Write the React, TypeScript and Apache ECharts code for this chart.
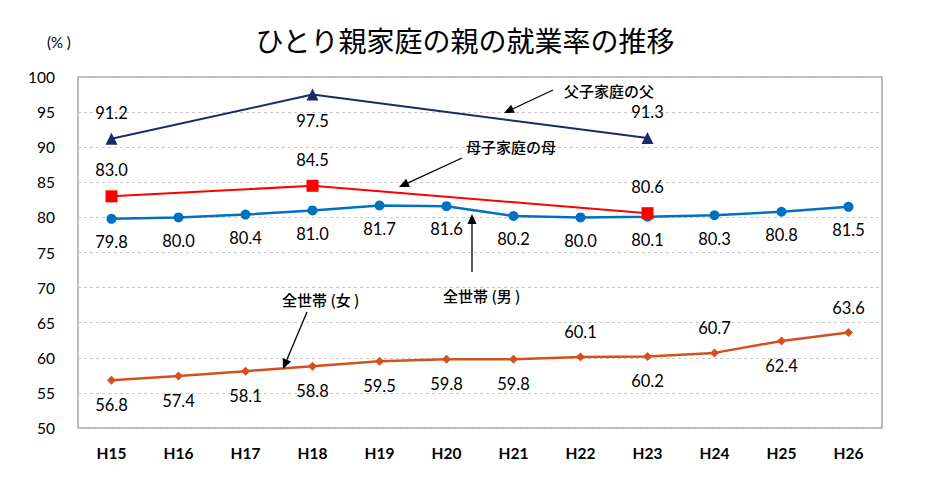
import React, { useEffect, useRef } from "react";
import * as echarts from "echarts";

const categories = ["H15", "H16", "H17", "H18", "H19", "H20", "H21", "H22", "H23", "H24", "H25", "H26"];
const fatherValues: (number | null)[] = [91.2, null, null, 97.5, null, null, null, null, 91.3, null, null, null];
const motherValues: (number | null)[] = [83.0, null, null, 84.5, null, null, null, null, 80.6, null, null, null];
const allMaleValues = [79.8, 80.0, 80.4, 81.0, 81.7, 81.6, 80.2, 80.0, 80.1, 80.3, 80.8, 81.5];
const allFemaleValues = [56.8, 57.4, 58.1, 58.8, 59.5, 59.8, 59.8, 60.1, 60.2, 60.7, 62.4, 63.6];
const fatherLabelPos = ["top", "", "", "bottom", "", "", "", "", "top", "", "", ""];
const femaleLabelPos = ["bottom", "bottom", "bottom", "bottom", "bottom", "bottom", "bottom", "top", "bottom", "top", "bottom", "top"];

const NUM_FONT = "Lato, 'Noto Sans CJK JP', sans-serif";
const JP_FONT = "'Noto Sans CJK JP', sans-serif";

function arrow(x1: number, y1: number, x2: number, y2: number) {
  const dx = x2 - x1;
  const dy = y2 - y1;
  const len = Math.sqrt(dx * dx + dy * dy);
  const ux = dx / len;
  const uy = dy / len;
  const hl = 10;
  const hw = 4.5;
  const bx = x2 - ux * hl;
  const by = y2 - uy * hl;
  return [
    {
      type: "line",
      shape: { x1, y1, x2: bx, y2: by },
      style: { stroke: "#000", lineWidth: 1.3 },
      z: 100,
    },
    {
      type: "polygon",
      shape: {
        points: [
          [x2, y2],
          [bx - uy * hw, by + ux * hw],
          [bx + uy * hw, by - ux * hw],
        ],
      },
      style: { fill: "#000" },
      z: 100,
    },
  ];
}

function annText(x: number, y: number, text: string) {
  return {
    type: "text",
    x,
    y,
    style: { text, font: `500 15px ${JP_FONT}`, fill: "#000", textVerticalAlign: "middle" },
    z: 100,
  };
}

export default function App() {
  const ref = useRef<HTMLDivElement>(null);
  useEffect(() => {
    if (!ref.current) return;
    const chart = echarts.init(ref.current, null, { renderer: "svg" });
    const labelBase = { show: true, fontSize: 16.5, color: "#000", fontFamily: NUM_FONT, formatter: (p: any) => Number(p.value).toFixed(1) };
    chart.setOption({
      animation: false,
      backgroundColor: "#fff",
      title: {
        text: "ひとり親家庭の親の就業率の推移",
        left: 460,
        textAlign: "center",
        top: 21,
        textStyle: { fontSize: 28, fontWeight: "normal", color: "#000", fontFamily: JP_FONT },
      },
      grid: {
        left: 78,
        right: 53,
        top: 77,
        bottom: 55,
        show: true,
        borderColor: "#a6a6a6",
        borderWidth: 1.5,
        backgroundColor: "transparent",
      },
      xAxis: {
        type: "category",
        data: categories,
        boundaryGap: true,
        axisLine: { show: false },
        axisTick: { show: false },
        axisLabel: { fontSize: 15.5, color: "#000", fontWeight: "bold", fontFamily: NUM_FONT, margin: 17 },
      },
      yAxis: {
        type: "value",
        min: 50,
        max: 100,
        interval: 5,
        axisLine: { show: false },
        axisTick: { show: false },
        axisLabel: { fontSize: 15.5, color: "#000", fontFamily: NUM_FONT, margin: 23 },
        splitLine: { lineStyle: { color: "#c8c8c8", type: [3, 3], width: 1 } },
      },
      graphic: [
        { type: "text", x: 47, y: 42, style: { text: "(% )", font: `15px ${NUM_FONT}`, fill: "#000", textVerticalAlign: "middle" } },
        annText(564, 90, "父子家庭の父"),
        annText(466, 146, "母子家庭の母"),
        annText(443, 295, "全世帯 (男 )"),
        annText(282, 299, "全世帯 (女 )"),
        ...arrow(553, 90, 504, 113),
        ...arrow(462, 158, 399, 187),
        ...arrow(472, 272, 472, 214),
        ...arrow(307, 312, 283, 369),
      ],
      series: [
        {
          name: "全世帯(男)",
          type: "line",
          data: allMaleValues,
          symbol: "circle",
          symbolSize: 10,
          lineStyle: { color: "#0070C0", width: 2.5 },
          itemStyle: { color: "#0070C0" },
          label: { ...labelBase, position: "bottom", distance: 10 },
          z: 3,
        },
        {
          name: "全世帯(女)",
          type: "line",
          data: allFemaleValues.map((v, i) => ({
            value: v,
            label: { position: femaleLabelPos[i], distance: 12 },
          })),
          symbol: "diamond",
          symbolSize: 9,
          lineStyle: { color: "#D4501E", width: 2.5 },
          itemStyle: { color: "#D4501E" },
          label: { ...labelBase },
          z: 3,
        },
        {
          name: "母子家庭の母",
          type: "line",
          data: motherValues,
          connectNulls: true,
          symbol: "rect",
          symbolSize: 12,
          lineStyle: { color: "#FF0000", width: 2 },
          itemStyle: { color: "#FF0000" },
          label: { ...labelBase, position: "top", distance: 12 },
          z: 4,
        },
        {
          name: "父子家庭の父",
          type: "line",
          data: fatherValues.map((v, i) => ({
            value: v,
            label: { position: fatherLabelPos[i] || "top", distance: 12 },
          })),
          connectNulls: true,
          symbol: "triangle",
          symbolSize: 12,
          lineStyle: { color: "#1B2A6B", width: 2 },
          itemStyle: { color: "#1B2A6B" },
          label: { ...labelBase },
          z: 4,
        },
      ],
    });
    return () => chart.dispose();
  }, []);
  return <div ref={ref} style={{ width: 935, height: 483, position: "absolute", left: 0, top: 0 }} />;
}
